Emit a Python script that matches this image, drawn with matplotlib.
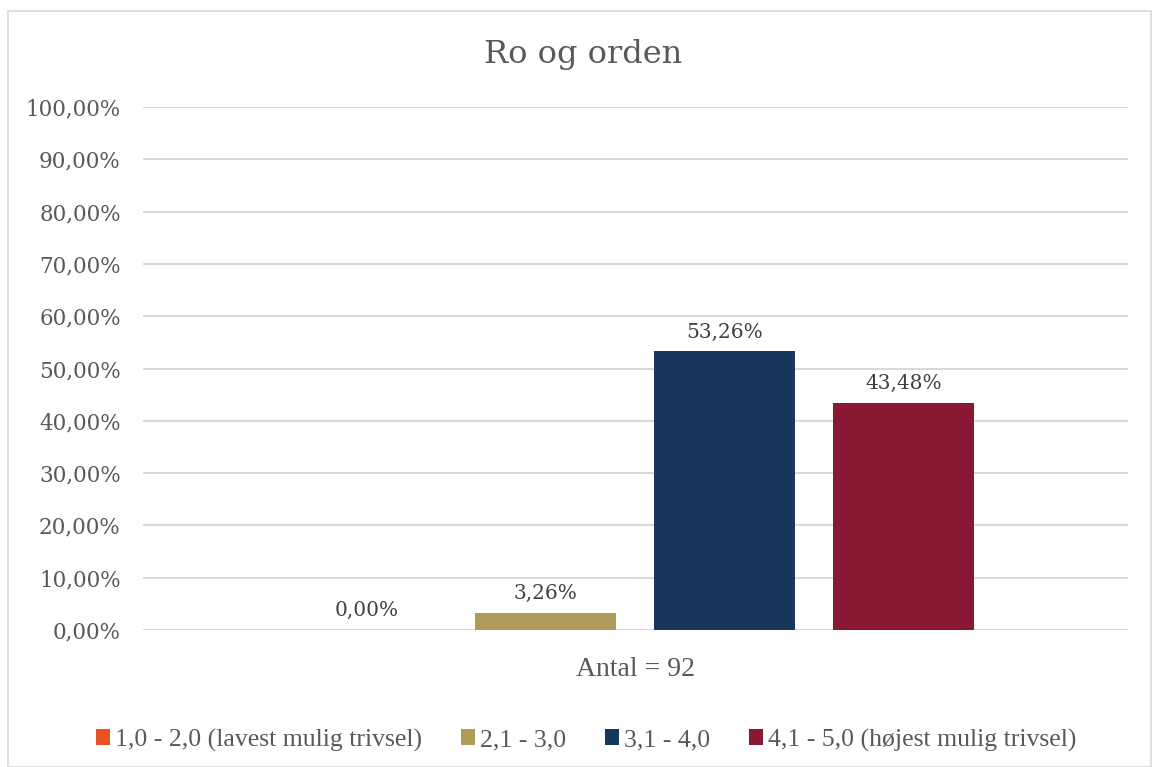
import matplotlib.pyplot as plt
from matplotlib.patches import Rectangle

categories = ["1,0 - 2,0 (lavest mulig trivsel)", "2,1 - 3,0", "3,1 - 4,0", "4,1 - 5,0 (højest mulig trivsel)"]
values = [0.0, 3.26, 53.26, 43.48]
colors = ["#E8531F", "#B09A5A", "#18375F", "#8B1832"]
yticks = list(range(0, 101, 10))
title = "Ro og orden"
xlabel = "Antal = 92"

plt.rcParams['font.family'] = ['DejaVu Serif']
cond = ['Liberation Serif', 'DejaVu Serif']
txt = "#595959"

fig = plt.figure(figsize=(11.52, 7.67), dpi=100)
fig.patches.append(Rectangle((8/1152, 0), 1143/1152, 1 - 11/767, transform=fig.transFigure,
                             fill=False, edgecolor="#D9D9D9", linewidth=1.2))
ax = fig.add_axes([143/1152, 1 - 630/767, 985/1152, 523/767])

positions = [-1.5, -0.5, 0.5, 1.5]
bars = ax.bar(positions, values, width=0.788, color=colors, label=categories, zorder=3)
for p, v in zip(positions, values):
    ax.annotate(f"{v:.2f}%".replace(".", ","), (p, v), xytext=(0, 7), textcoords="offset points",
                ha="center", va="bottom", fontsize=14.5, color="#404040")

ax.set_xlim(-2.75, 2.755)
ax.set_ylim(0, 100)
ax.set_yticks(yticks)
ax.set_yticklabels([f"{t},00%" for t in yticks], fontsize=15.5, color=txt)
ax.yaxis.grid(True, color="#D9D9D9", linewidth=1.5, zorder=0)
ax.set_xticks([])
ax.tick_params(axis="y", length=0, pad=16)
for s in ax.spines.values():
    s.set_visible(False)

fig.text(583/1152, 1 - 55/767, title, ha="center", va="center", fontsize=23, color=txt)
fig.text(635/1152, 1 - 670/767, xlabel, ha="center", va="center", fontsize=20, color=txt, family=cond)

fig.legend(handles=bars, labels=categories, loc="center", bbox_to_anchor=(586/1152, 1 - 740/767),
           ncol=4, frameon=False, prop={'family': cond, 'size': 18.5}, labelcolor=txt,
           handlelength=0.55, handleheight=0.55, handletextpad=0.2, columnspacing=1.5)

fig.savefig("out.png", dpi=100)
